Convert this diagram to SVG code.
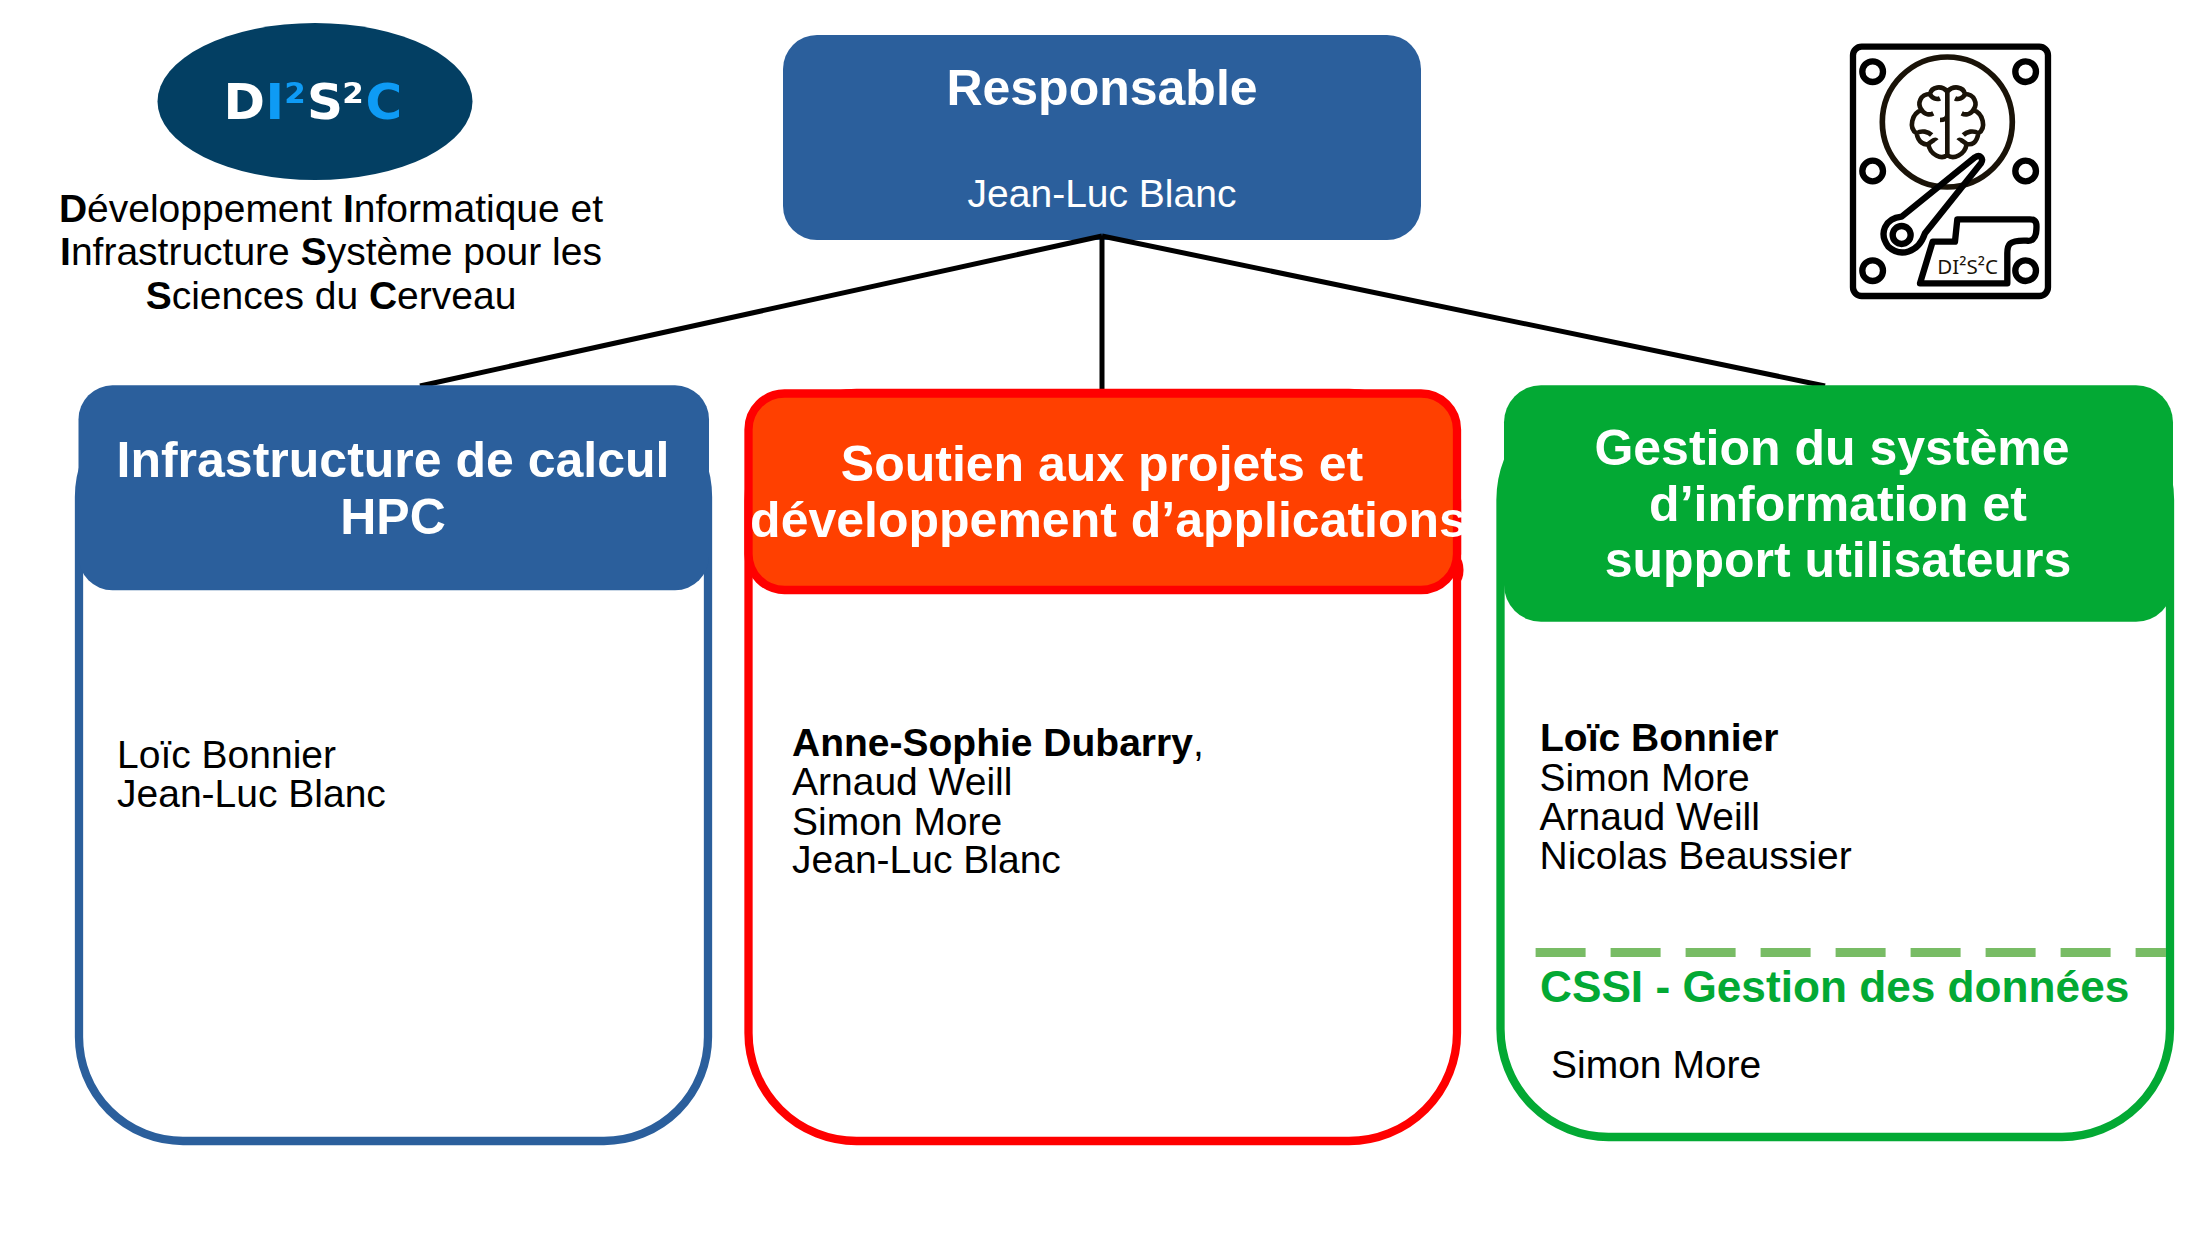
<svg xmlns="http://www.w3.org/2000/svg" width="2205" height="1241" viewBox="0 0 2205 1241">
<style>
text{font-family:"Liberation Sans",Arial,sans-serif}
.hd{font-weight:bold;font-size:50px;fill:#fff;text-anchor:middle}
.b{font-size:39px;fill:#000}
.sm{font-size:39px;fill:#000}
.bo{font-weight:bold}
.k{fill:none;stroke:#000;stroke-width:19;stroke-linejoin:round;stroke-linecap:round}
.h{fill:none;stroke:#1a1308;stroke-width:17}
.o{fill:#fff;stroke-width:8.300}
</style>
<rect width="2205" height="1241" fill="#fff"/>
<g id="logo">
<ellipse cx="315" cy="101.500" rx="157.500" ry="78.500" fill="#033f63"/>
<text y="119" font-size="50" font-weight="bold" style="font-family:'DejaVu Sans',sans-serif" fill="#fff"><tspan x="223.500">D</tspan><tspan x="265.500" fill="#0e9bf5">I</tspan><tspan x="284" fill="#0e9bf5">²</tspan><tspan x="307">S</tspan><tspan x="342">²</tspan><tspan x="365.500" fill="#0e9bf5">C</tspan></text>
</g>
<g id="caption">
<text class="sm" x="331" y="222" text-anchor="middle"><tspan class="bo">D</tspan>éveloppement <tspan class="bo">I</tspan>nformatique et</text>
<text class="sm" x="331" y="265" text-anchor="middle"><tspan class="bo">I</tspan>nfrastructure <tspan class="bo">S</tspan>ystème pour les</text>
<text class="sm" x="331" y="309" text-anchor="middle"><tspan class="bo">S</tspan>ciences du <tspan class="bo">C</tspan>erveau</text>
</g>
<g id="responsable">
<rect x="783" y="35" width="638" height="205" rx="34" fill="#2b5f9c"/>
<text class="hd" x="1102" y="105">Responsable</text>
<text x="1102" y="207" font-size="39" fill="#fff" text-anchor="middle">Jean-Luc Blanc</text>
</g>
<g id="connectors" stroke="#000" stroke-width="5" fill="none">
<line x1="1102" y1="236" x2="420" y2="386"/>
<line x1="1102" y1="236" x2="1102" y2="392"/>
<line x1="1102" y1="236" x2="1825" y2="386"/>
</g>
<g id="hpc">
<rect class="o" x="79" y="393" width="629" height="748" rx="104" stroke="#2b5f9c"/>
<rect x="78.500" y="385.300" width="630.500" height="205" rx="34" fill="#2b5f9c"/>
<text class="hd" x="393" y="477">Infrastructure de calcul</text>
<text class="hd" x="393" y="534">HPC</text>
<text class="b" x="117" y="768">Loïc Bonnier</text>
<text class="b" x="117" y="807">Jean-Luc Blanc</text>
</g>
<g id="soutien">
<rect class="o" x="748.500" y="393" width="708.500" height="748" rx="108" stroke="#f00"/>
<ellipse cx="1459" cy="570" rx="4.500" ry="12" fill="#f00"/>
<rect x="748.500" y="393.500" width="708.500" height="196.500" rx="36" fill="#ff4000" stroke="#f00" stroke-width="8.300"/>
<text class="hd" x="1102" y="481">Soutien aux projets et</text>
<text class="hd" x="1108.500" y="537">développement d’applications</text>
<text class="b" x="792" y="756"><tspan class="bo">Anne-Sophie Dubarry</tspan>,</text>
<text class="b" x="792" y="795">Arnaud Weill</text>
<text class="b" x="792" y="834.500">Simon More</text>
<text class="b" x="792" y="873">Jean-Luc Blanc</text>
</g>
<g id="gestion">
<rect class="o" x="1500.500" y="392" width="669.500" height="745" rx="108" stroke="#03a934"/>
<rect x="1504" y="385.300" width="669" height="236.500" rx="37" fill="#03a934"/>
<text class="hd" x="1832" y="465">Gestion du système</text>
<text class="hd" x="1838" y="521">d’information et</text>
<text class="hd" x="1838" y="577">support utilisateurs</text>
<text class="b bo" x="1540" y="751">Loïc Bonnier</text>
<text class="b" x="1539.500" y="791">Simon More</text>
<text class="b" x="1539.500" y="829.500">Arnaud Weill</text>
<text class="b" x="1539.500" y="869">Nicolas Beaussier</text>
<line x1="1535.600" y1="952.500" x2="2166" y2="952.500" stroke="#78bc65" stroke-width="9" stroke-dasharray="50 25"/>
<text x="1540" y="1001.500" font-size="44.200" font-weight="bold" fill="#03a934">CSSI - Gestion des données</text>
<text class="b" x="1551" y="1078">Simon More</text>
</g>
<g id="disque" transform="translate(1800 20) scale(.3333)">
<rect x="159" y="80" width="585" height="748" rx="26" class="k"/>
<circle cx="218" cy="155" r="31" class="k"/><circle cx="677" cy="155" r="31" class="k"/>
<circle cx="218" cy="453" r="31" class="k"/><circle cx="677" cy="453" r="31" class="k"/>
<circle cx="218" cy="752" r="31" class="k"/><circle cx="677" cy="752" r="31" class="k"/>
<circle cx="442" cy="306" r="195" class="h"/>
<path class="h" style="stroke-width:14" d="M442 215C425 195 395 200 390 222C362 222 350 250 365 270C335 280 325 325 350 340C355 370 375 375 385 372C390 405 425 420 442 405C460 420 495 405 500 372C515 375 530 370 535 340C560 325 550 280 520 270C535 250 522 222 495 222C490 200 460 195 442 215ZM442 215V405M390 222C395 235 410 240 420 235M365 270C375 285 390 285 400 280M350 340C365 330 385 335 395 345M385 372C395 365 405 355 410 362M495 222C490 235 475 240 465 235M520 270C510 285 495 285 485 280M535 340C520 330 500 335 490 345M500 372C490 365 480 355 475 362M420 300C430 300 442 295 442 285"/>
<path class="k" d="M305 590L525 412C540 402 552 415 543 430L375 640C355 700 300 712 265 680C235 640 255 595 305 590Z"/>
<circle cx="305" cy="645" r="27" class="k"/>
<path class="k" d="M398 665H465L472 598H690C710 598 712 610 708 640C705 655 695 665 680 662C625 660 622 675 622 700V790H360Z"/>
<text x="412" y="762" font-size="62" fill="#1a1308" style="font-family:'Noto Sans',sans-serif" textLength="182" lengthAdjust="spacingAndGlyphs">DI²S²C</text>
</g>
</svg>
